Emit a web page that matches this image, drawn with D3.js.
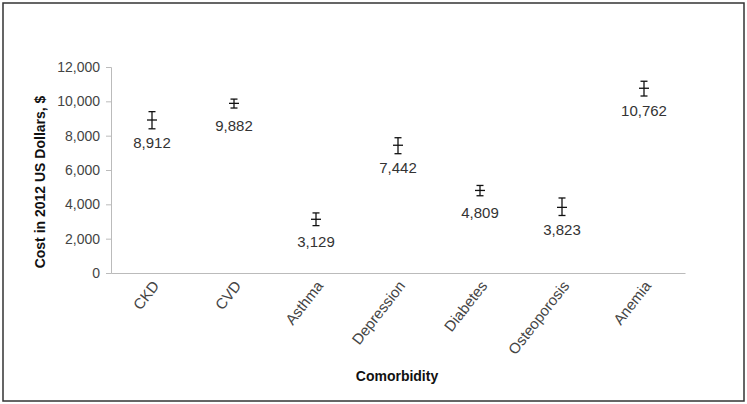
<!DOCTYPE html>
<html>
<head>
<meta charset="utf-8">
<script src="https://cdn.jsdelivr.net/npm/d3@7"></script>
<style>
  body { margin: 0; background: #fff; }
  svg { display: block; font-family: "Liberation Sans", Arial, sans-serif; }
</style>
</head>
<body>
<script>
var categories = ['CKD', 'CVD', 'Asthma', 'Depression', 'Diabetes', 'Osteoporosis', 'Anemia'];
var costs = [8912, 9882, 3129, 7442, 4809, 3823, 10762];
var lows = [8400, 9610, 2760, 6950, 4500, 3350, 10310];
var highs = [9400, 10130, 3500, 7880, 5100, 4370, 11170];
var yTicks = [0, 2000, 4000, 6000, 8000, 10000, 12000];

var w = 747, h = 404;
var mLeft = 111, mRight = 685, mTop = 67, mBottom = 273;

var svg = d3.select('body').append('svg')
	.attr('width', w)
	.attr('height', h);

// frame
svg.append('rect')
	.attr('x', 3).attr('y', 3)
	.attr('width', 741).attr('height', 398)
	.attr('fill', 'none')
	.attr('stroke', '#333')
	.attr('stroke-width', 1.5);

var x = d3.scaleBand().domain(categories).range([mLeft, mRight]);
var y = d3.scaleLinear().domain([0, 12000]).range([mBottom, mTop]);

var yAxis = svg.append('g')
	.attr('transform', 'translate(' + mLeft + ',0)')
	.call(d3.axisLeft(y).tickValues(yTicks).tickSize(5).tickPadding(6).tickFormat(d3.format(',')));
yAxis.select('.domain').attr('stroke', '#bbb');
yAxis.selectAll('.tick line').attr('stroke', '#bbb');
yAxis.selectAll('.tick text')
	.attr('font-size', '14px')
	.attr('font-family', 'Liberation Sans, Arial, sans-serif')
	.attr('fill', '#444');

var xAxis = svg.append('g')
	.attr('transform', 'translate(0,' + mBottom + ')')
	.call(d3.axisBottom(x).tickSize(0).tickPadding(0));
xAxis.select('.domain').attr('stroke', '#bbb');
xAxis.selectAll('.tick text')
	.attr('font-size', '15px')
	.attr('font-family', 'Liberation Sans, Arial, sans-serif')
	.attr('fill', '#444')
	.attr('text-anchor', 'end')
	.attr('dy', 0)
	.attr('transform', 'translate(8,13) rotate(-52)');

var data = categories.map(function(c, i){
	return {name: c, v: costs[i], lo: lows[i], hi: highs[i]};
});

var g = svg.append('g');
var cx = function(d){ return x(d.name) + x.bandwidth() / 2; };

// error bars
g.selectAll('line.bar').data(data).enter().append('line')
	.attr('x1', cx).attr('x2', cx)
	.attr('y1', function(d){ return y(d.hi); })
	.attr('y2', function(d){ return y(d.lo); })
	.attr('stroke', '#111').attr('stroke-width', 1.3);

g.selectAll('line.capHi').data(data).enter().append('line')
	.attr('x1', function(d){ return cx(d) - 3.5; })
	.attr('x2', function(d){ return cx(d) + 3.5; })
	.attr('y1', function(d){ return y(d.hi); })
	.attr('y2', function(d){ return y(d.hi); })
	.attr('stroke', '#111').attr('stroke-width', 1.3);

g.selectAll('line.capLo').data(data).enter().append('line')
	.attr('x1', function(d){ return cx(d) - 3.5; })
	.attr('x2', function(d){ return cx(d) + 3.5; })
	.attr('y1', function(d){ return y(d.lo); })
	.attr('y2', function(d){ return y(d.lo); })
	.attr('stroke', '#111').attr('stroke-width', 1.3);

g.selectAll('line.mean').data(data).enter().append('line')
	.attr('x1', function(d){ return cx(d) - 5; })
	.attr('x2', function(d){ return cx(d) + 5; })
	.attr('y1', function(d){ return y(d.v); })
	.attr('y2', function(d){ return y(d.v); })
	.attr('stroke', '#111').attr('stroke-width', 1.3);

// value labels
g.selectAll('text.val').data(data).enter().append('text')
	.attr('x', cx)
	.attr('y', function(d){ return y(d.v) + 28; })
	.attr('text-anchor', 'middle')
	.attr('font-size', '15px')
	.attr('fill', '#333')
	.text(function(d){ return d3.format(',')(d.v); });

// axis titles
svg.append('text')
	.attr('transform', 'translate(45,' + 182 + ') rotate(-90)')
	.attr('text-anchor', 'middle')
	.attr('font-size', '14px')
	.attr('font-weight', 'bold')
	.attr('fill', '#111')
	.text('Cost in 2012 US Dollars, $');

svg.append('text')
	.attr('x', 397)
	.attr('y', 381)
	.attr('text-anchor', 'middle')
	.attr('font-size', '14px')
	.attr('font-weight', 'bold')
	.attr('fill', '#111')
	.text('Comorbidity');
</script>
</body>
</html>
